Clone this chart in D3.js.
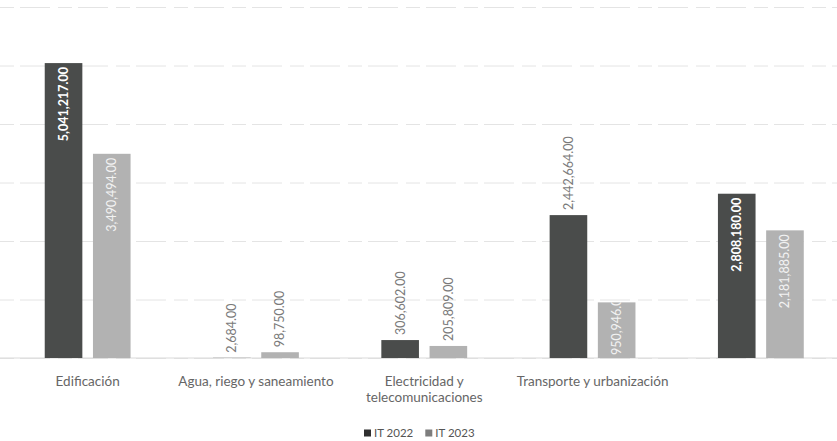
<!DOCTYPE html>
<html>
<head>
<meta charset="utf-8">
<script src="https://cdn.jsdelivr.net/npm/d3@7"></script>
<style>
  html, body { margin: 0; padding: 0; background: #fff; }
  svg { display: block; font-family: Lato, "Open Sans", sans-serif; }
</style>
</head>
<body>
<svg id="chart" width="837" height="441"></svg>
<script>
// Investment by category, first quarter 2022 vs 2023
const categories = [
  "Edificación",
  "Agua, riego y saneamiento",
  "Electricidad y telecomunicaciones",
  "Transporte y urbanización",
  ""
];
const seriesNames = ["IT 2022", "IT 2023"];
const values2022 = [5041217.00, 2684.00, 306602.00, 2442664.00, 2808180.00];
const values2023 = [3490494.00, 98750.00, 205809.00, 950946.00, 2181885.00];
const yTicks = [0, 1000000, 2000000, 3000000, 4000000, 5000000, 6000000];

// Label placement: "in" = white text inside the bar end, "out" = grey text above the bar
const labelPlacement = [
  ["in", "in"],
  ["out", "out"],
  ["out", "out"],
  ["out", "in"],
  ["in", "in"]
];
// Category labels broken into lines
const categoryLines = {
  "Electricidad y telecomunicaciones": ["Electricidad y", "telecomunicaciones"]
};

const colors = ["#4a4c4b", "#b2b2b2"];
const svg = d3.select("#chart");
const W = 837, H = 441;
const plot = { left: 3.5, right: 845, top: 7, bottom: 358 };

const x0 = d3.scaleBand().domain(categories.map((c, i) => i))
  .range([plot.left, plot.right]).paddingInner(0.49).paddingOuter(0.245);
const x1 = d3.scaleBand().domain(seriesNames)
  .range([0, x0.bandwidth()]).paddingInner(0.22);
const y = d3.scaleLinear().domain([0, 6000000]).range([plot.bottom, plot.top]);

// Gridlines
svg.append("g")
  .attr("class", "grid")
  .call(d3.axisLeft(y).tickValues(yTicks).tickSize(-(W + 10)).tickFormat(""))
  .call(g => g.select(".domain").remove())
  .call(g => g.selectAll("line")
    .attr("stroke", "#e4e4e4")
    .attr("stroke-width", 1)
    .attr("stroke-dasharray", "14,6,30,8"));

// Baseline
svg.append("line")
  .attr("x1", 0).attr("x2", W)
  .attr("y1", y(0)).attr("y2", y(0))
  .attr("stroke", "#d9d9d9").attr("stroke-width", 1);

const rows = categories.map((c, i) => ({
  i, cat: c,
  vals: [values2022[i], values2023[i]]
}));

const fmt = d3.format(",.2f");
const defs = svg.append("defs");

const groups = svg.append("g").selectAll("g.cat")
  .data(rows).join("g")
  .attr("class", "cat")
  .attr("transform", d => `translate(${x0(d.i)},0)`);

const barData = d => d.vals.map((v, s) => ({ v, s, i: d.i }));

groups.selectAll("rect")
  .data(barData)
  .join("rect")
  .attr("x", d => x1(seriesNames[d.s]))
  .attr("width", x1.bandwidth())
  .attr("y", d => y(d.v))
  .attr("height", d => y(0) - y(d.v))
  .attr("fill", d => colors[d.s]);

// Clip paths so white labels never spill outside their bar
rows.forEach(r => r.vals.forEach((v, s) => {
  defs.append("clipPath").attr("id", `clip-${r.i}-${s}`)
    .append("rect")
    .attr("x", x1(seriesNames[s]))
    .attr("width", x1.bandwidth())
    .attr("y", y(v))
    .attr("height", y(0) - y(v));
}));

// Value labels, rotated
const labelSize = 12.5;
groups.selectAll("g.val")
  .data(barData)
  .join("g")
  .attr("class", "val")
  .attr("clip-path", d => labelPlacement[d.i][d.s] === "in" ? `url(#clip-${d.i}-${d.s})` : null)
  .append("text")
  .attr("font-size", labelSize)
  .attr("dy", "0.35em")
  .text(d => fmt(d.v))
  .attr("fill", d => labelPlacement[d.i][d.s] === "in" ? (d.s === 0 ? "#ffffff" : "#f2f2f2") : "#7a7a7a")
  .attr("font-weight", d => (labelPlacement[d.i][d.s] === "in" && d.s === 0) ? "bold" : "normal")
  .each(function (d) {
    const t = d3.select(this);
    const len = this.getComputedTextLength();
    const cx = x1(seriesNames[d.s]) + x1.bandwidth() / 2;
    const inside = labelPlacement[d.i][d.s] === "in";
    let ty, anchor;
    if (!inside) { ty = y(d.v) - 5; anchor = "start"; }
    else if (len + 8 <= y(0) - y(d.v)) { ty = y(d.v) + 4; anchor = "end"; }
    else { ty = y(0) - 3; anchor = "start"; }
    t.attr("text-anchor", anchor)
      .attr("transform", `translate(${cx},${ty}) rotate(-90)`);
  });

// Category labels
groups.append("text")
  .attr("x", x0.bandwidth() / 2)
  .attr("y", 386)
  .attr("text-anchor", "middle")
  .attr("font-size", 13.5)
  .attr("fill", "#666")
  .selectAll("tspan")
  .data(d => categoryLines[d.cat] || [d.cat])
  .join("tspan")
  .attr("x", x0.bandwidth() / 2)
  .attr("dy", (d, k) => k === 0 ? 0 : 16)
  .text(d => d);

// Legend
const legend = svg.append("g").attr("transform", "translate(364,437)");
let lx = 0;
seriesNames.forEach((name, s) => {
  const item = legend.append("g").attr("transform", `translate(${lx},0)`);
  item.append("rect").attr("x", 0).attr("y", -7.5).attr("width", 7).attr("height", 7)
    .attr("fill", s === 0 ? "#2f2f2f" : "#7d7d7d");
  const t = item.append("text").attr("x", 10).attr("y", 0)
    .attr("font-size", 11.5).attr("fill", "#555").text(name);
  lx += 10 + t.node().getComputedTextLength() + 12;
});
</script>
</body>
</html>
